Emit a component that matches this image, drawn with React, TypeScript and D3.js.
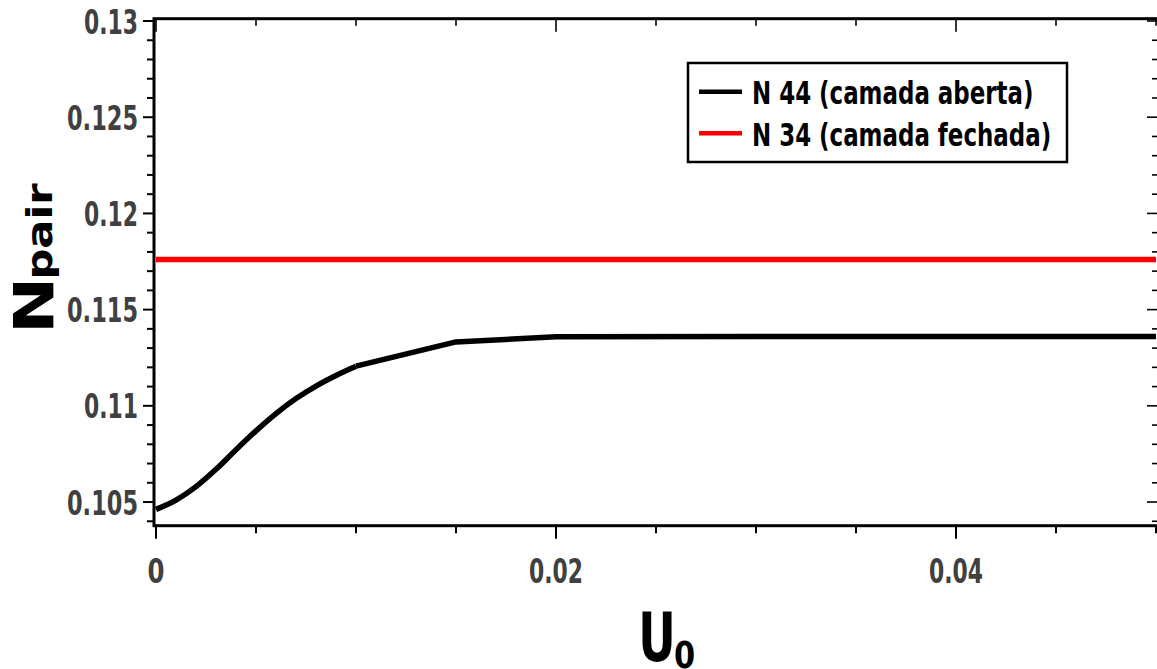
import React from 'react';
import * as d3 from 'd3';

// Pairing number versus interaction strength U0
const u0Open = [0, 0.001, 0.002, 0.003, 0.004, 0.005, 0.006, 0.007, 0.008, 0.009, 0.01, 0.015, 0.02, 0.03, 0.04, 0.05];
const nPairOpen = [0.10462, 0.1051, 0.1058, 0.1067, 0.10772, 0.1087, 0.1096, 0.11038, 0.11103, 0.11158, 0.11206, 0.11332, 0.11359, 0.1136, 0.1136, 0.1136];
const u0Closed = [0, 0.05];
const nPairClosed = [0.11761, 0.11761];

const xTickValues = [0, 0.02, 0.04];
const xTickLabels = ['0', '0.02', '0.04'];
const yTickValues = [0.105, 0.11, 0.115, 0.12, 0.125, 0.13];
const yTickLabels = ['0.105', '0.11', '0.115', '0.12', '0.125', '0.13'];
const legendLabels = ['N 44 (camada aberta)', 'N 34 (camada fechada)'];
const seriesColors = ['#000000', '#ff0000'];

const W = 1157;
const H = 669;
const left = 154;
const right = 1160;
const top = 18.7;
const bottom = 525.7;

const x = d3.scaleLinear().domain([-0.0001, 0.0502]).range([left, right]);
const y = d3.scaleLinear().domain([0.10377, 0.13012]).range([bottom, top]);

const FONT = '"DejaVu Sans", sans-serif';
const LABEL = '#404040';

function labelWidth(s: string) {
  const digits = s.replace('.', '').length;
  return digits * 17 + (s.includes('.') ? 3 : 0);
}

type Pt = [number, number];

export default function App() {
  const pts: Pt[] = u0Open.map((u, i) => [u, nPairOpen[i]]);
  // smooth rise over the dense low-U0 samples, straight segments beyond
  const smoothPart = pts.filter((p) => p[0] <= 0.01 + 1e-9);
  const linearPart = pts.filter((p) => p[0] >= 0.01 - 1e-9);
  const smooth = d3
    .line<Pt>()
    .x((d) => x(d[0]))
    .y((d) => y(d[1]))
    .curve(d3.curveMonotoneX);
  const straight = d3
    .line<Pt>()
    .x((d) => x(d[0]))
    .y((d) => y(d[1]));
  const closedPts: Pt[] = u0Closed.map((u, i) => [u, nPairClosed[i]]);

  const xMinor = d3.range(0, 0.0501, 0.005).filter((v) => !xTickValues.some((t) => Math.abs(t - v) < 1e-9));
  const yMinor = d3.range(0.104, 0.1301, 0.001).filter((v) => !yTickValues.some((t) => Math.abs(t - v) < 1e-9));

  return (
    <svg width={W} height={H} style={{ position: 'absolute', left: 0, top: 0, background: '#fff' }}>
      <rect x={0} y={0} width={W} height={H} fill="#fff" />

      {/* data */}
      <path d={straight(closedPts) || ''} fill="none" stroke={seriesColors[1]} strokeWidth={5.5} />
      <path d={smooth(smoothPart) || ''} fill="none" stroke={seriesColors[0]} strokeWidth={5.5} strokeLinejoin="round" />
      <path d={straight(linearPart) || ''} fill="none" stroke={seriesColors[0]} strokeWidth={5.5} strokeLinejoin="round" />

      {/* frame */}
      <rect x={left} y={top} width={right - left} height={bottom - top} fill="none" stroke="#000" strokeWidth={3} />

      {/* y ticks: outward on left, inward on right */}
      {yTickValues.map((v) => (
        <g key={'ym' + v}>
          <line x1={left - 11} x2={left} y1={y(v)} y2={y(v)} stroke="#000" strokeWidth={2} />
          <line x1={right - 13} x2={right} y1={y(v)} y2={y(v)} stroke="#000" strokeWidth={1.6} />
        </g>
      ))}
      {yMinor.map((v) => (
        <g key={'yn' + v}>
          <line x1={left - 7} x2={left} y1={y(v)} y2={y(v)} stroke="#000" strokeWidth={2} />
          <line x1={right - 8} x2={right} y1={y(v)} y2={y(v)} stroke="#000" strokeWidth={1.6} />
        </g>
      ))}

      {/* x ticks: outward at bottom, inward at top */}
      {xTickValues.map((v) => (
        <g key={'xm' + v}>
          <line x1={x(v)} x2={x(v)} y1={bottom} y2={bottom + 13} stroke="#000" strokeWidth={2} />
          <line x1={x(v)} x2={x(v)} y1={top} y2={top + 13} stroke="#000" strokeWidth={1.6} />
        </g>
      ))}
      {xMinor.map((v) => (
        <g key={'xn' + v}>
          <line x1={x(v)} x2={x(v)} y1={bottom} y2={bottom + 7.5} stroke="#000" strokeWidth={2} />
          <line x1={x(v)} x2={x(v)} y1={top} y2={top + 7} stroke="#000" strokeWidth={1.6} />
        </g>
      ))}

      {/* tick labels */}
      {yTickValues.map((v, i) => (
        <text
          key={'yl' + v}
          x={138}
          y={y(v) + 12.5}
          textAnchor="end"
          fontFamily={FONT}
          fontWeight="bold"
          fontSize={34}
          fill={LABEL}
          textLength={labelWidth(yTickLabels[i])}
          lengthAdjust="spacingAndGlyphs"
        >
          {yTickLabels[i]}
        </text>
      ))}
      {xTickValues.map((v, i) => (
        <text
          key={'xl' + v}
          x={x(v)}
          y={583}
          textAnchor="middle"
          fontFamily={FONT}
          fontWeight="bold"
          fontSize={34}
          fill={LABEL}
          textLength={labelWidth(xTickLabels[i])}
          lengthAdjust="spacingAndGlyphs"
        >
          {xTickLabels[i]}
        </text>
      ))}

      {/* axis titles */}
      <g transform="translate(657,661) scale(0.68,1)">
        <text x={0} y={0} textAnchor="middle" fontFamily={FONT} fontWeight="bold" fontSize={68} fill="#000">
          U
        </text>
      </g>
      <g transform="translate(684.5,667.5) scale(0.8,1)">
        <text x={0} y={0} textAnchor="middle" fontFamily={FONT} fontWeight="bold" fontSize={38} fill="#000">
          0
        </text>
      </g>
      <g transform="translate(53,305.5) rotate(-90) scale(1.22,1)">
        <text x={0} y={0} textAnchor="middle" fontFamily={FONT} fontWeight="bold" fontSize={56} fill="#000">
          N
        </text>
      </g>
      <g transform="translate(52,231.5) rotate(-90) scale(1.2,1)">
        <text x={0} y={0} textAnchor="middle" fontFamily={FONT} fontWeight="bold" fontSize={36} fill="#000">
          pair
        </text>
      </g>

      {/* legend */}
      <rect x={688} y={63} width={379} height={99} fill="#fff" stroke="#000" strokeWidth={2.5} />
      {legendLabels.map((lab, i) => {
        const ly = 91.7 + i * 41.6;
        return (
          <g key={lab}>
            <line x1={699} x2={742} y1={ly} y2={ly} stroke={seriesColors[i]} strokeWidth={4.5} />
            <g transform={`translate(752,${ly + 12.3}) scale(0.717,1)`}>
              <text x={0} y={0} fontFamily={FONT} fontWeight="bold" fontSize={32} fill="#000">
                {lab}
              </text>
            </g>
          </g>
        );
      })}
    </svg>
  );
}
